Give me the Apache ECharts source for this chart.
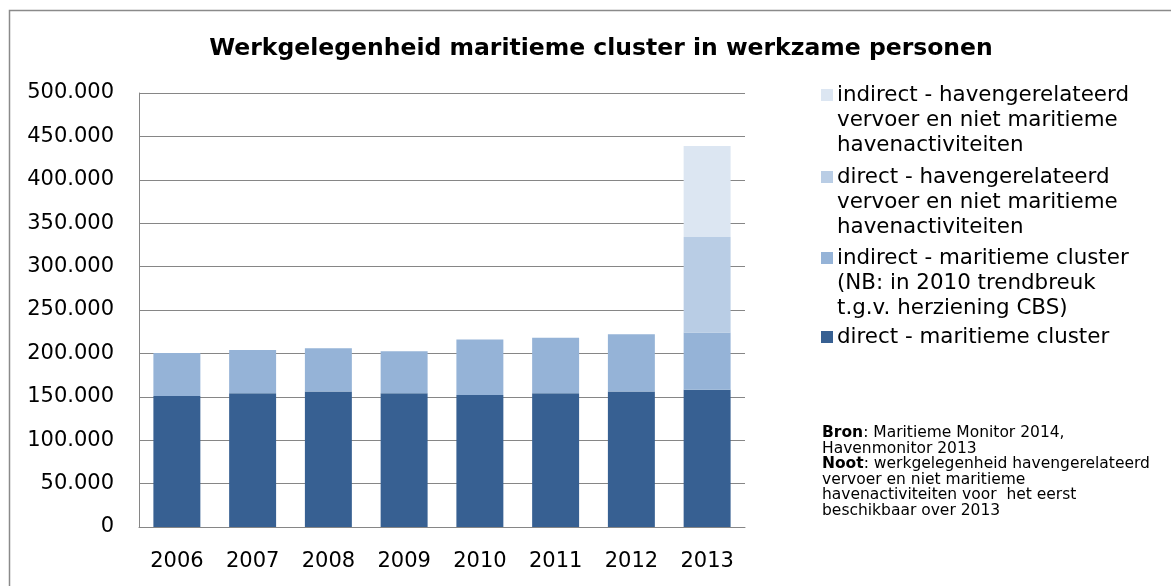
<!DOCTYPE html>
<html>
<head>
<meta charset="utf-8">
<script src="https://cdn.jsdelivr.net/npm/echarts@6/dist/echarts.min.js"></script>
<style>html,body{margin:0;padding:0;background:#fff;}#c{width:1171px;height:586px;}</style>
</head>
<body>
<div id="c"></div>
<script>
var years = ['2006','2007','2008','2009','2010','2011','2012','2013'];
var directMaritiem = [151000,154000,156000,154000,152000,154000,156000,158000];
var indirectMaritiem = [49500,50000,50000,48500,64000,64000,66000,66000];
var directHaven = [null,null,null,null,null,null,null,110000];
var indirectHaven = [null,null,null,null,null,null,null,105000];
var yTicks = [0,50000,100000,150000,200000,250000,300000,350000,400000,450000,500000];

var names = [
  'direct - maritieme cluster',
  'indirect - maritieme cluster\n(NB: in 2010 trendbreuk\nt.g.v. herziening CBS)',
  'direct - havengerelateerd\nvervoer en niet maritieme\nhavenactiviteiten',
  'indirect - havengerelateerd\nvervoer en niet maritieme\nhavenactiviteiten'
];
var colors = ['#376092','#95B3D7','#B9CDE5','#DCE6F2'];
var FONT = 'DejaVu Sans, Verdana, sans-serif';

function fmt(v){ return String(v).replace(/\B(?=(\d{3})+(?!\d))/g,'.'); }

var chart = echarts.init(document.getElementById('c'), null, {renderer:'canvas'});

var legendItems = [];
var legendTop = [95,177,258,337];
var legendOrder = [3,2,1,0];
legendOrder.forEach(function(si,k){
  legendItems.push({type:'rect', shape:{x:821, y:legendTop[k]-6, width:12, height:12}, style:{fill:colors[si]}});
  legendItems.push({type:'text', left:837, top:legendTop[k]-12.5, style:{text:names[si], font:'21.4px '+FONT, fill:'#000', lineHeight:25}});
});

var series = [directMaritiem, indirectMaritiem, directHaven, indirectHaven].map(function(d,i){
  return {name:names[i], type:'bar', stack:'total', data:d, barWidth:'62%', itemStyle:{color:colors[i]}, animation:false};
});

chart.setOption({
  animation:false,
  title:{text:'Werkgelegenheid maritieme cluster in werkzame personen', left:596, textAlign:'center', top:32,
    textStyle:{fontFamily:FONT, fontWeight:'bold', fontSize:23.5, color:'#000'}},
  grid:{left:139, right:426, top:93, bottom:59},
  xAxis:{type:'category', data:years,
    axisLine:{lineStyle:{color:'#868686'}}, axisTick:{show:false},
    axisLabel:{color:'#000', fontFamily:FONT, fontSize:21, margin:24}},
  yAxis:{type:'value', min:yTicks[0], max:yTicks[yTicks.length-1], interval:yTicks[1]-yTicks[0],
    axisLine:{show:true, lineStyle:{color:'#868686'}}, axisTick:{show:false},
    splitLine:{lineStyle:{color:'#868686', width:1}},
    axisLabel:{color:'#000', fontFamily:FONT, fontSize:21, margin:25, formatter:fmt}},
  series: series,
  graphic: [
    {type:'rect', shape:{x:9.5,y:10.5,width:1200,height:600}, style:{fill:'none', stroke:'#8a8a8a', lineWidth:1.5}, silent:true, z:-1},
    {type:'text', left:822, top:425, style:{
      text:'{b|Bron}: Maritieme Monitor 2014,\nHavenmonitor 2013\n{b|Noot}: werkgelegenheid havengerelateerd\nvervoer en niet maritieme\nhavenactiviteiten voor  het eerst\nbeschikbaar over 2013',
      font:'15.5px '+FONT, fill:'#000', lineHeight:15.6,
      rich:{b:{fontWeight:'bold', fontSize:15.5, fontFamily:FONT, lineHeight:15.6}}
    }}
  ].concat(legendItems)
});
</script>
</body>
</html>
